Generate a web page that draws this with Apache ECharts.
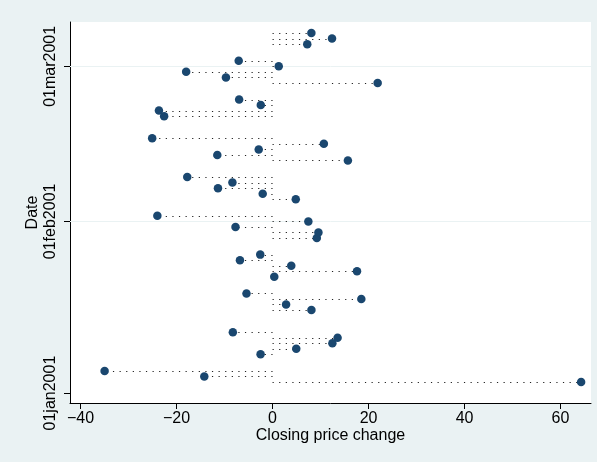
<!DOCTYPE html>
<html>
<head>
<meta charset="utf-8">
<script src="https://cdn.jsdelivr.net/npm/echarts@6/dist/echarts.min.js"></script>
<style>
html,body{margin:0;padding:0;background:#eaf2f3;}
#chart{width:597px;height:462px;}
</style>
</head>
<body>
<div id="chart"></div>
<script>
// Trading dates (2001) and closing price change
var dates = [
  '2001-01-03','2001-01-04','2001-01-05','2001-01-08','2001-01-09','2001-01-10','2001-01-11','2001-01-12',
  '2001-01-16','2001-01-17','2001-01-18','2001-01-19','2001-01-22','2001-01-23','2001-01-24','2001-01-25',
  '2001-01-26','2001-01-29','2001-01-30','2001-01-31','2001-02-01','2001-02-02','2001-02-05','2001-02-06',
  '2001-02-07','2001-02-08','2001-02-09','2001-02-12','2001-02-13','2001-02-14','2001-02-15','2001-02-16',
  '2001-02-20','2001-02-21','2001-02-22','2001-02-23','2001-02-26','2001-02-27','2001-02-28','2001-03-01',
  '2001-03-02','2001-03-05','2001-03-06','2001-03-07'
];
var changes = [
  64.29, -14.22, -34.99, -2.49, 4.94, 12.47, 13.55, -8.27,
  8.10, 2.82, 18.50, -5.43, 0.36, 17.60, 3.90, -6.79,
  -2.56, 9.22, 9.56, -7.72, 7.46, -24.00, 4.84, -2.05,
  -11.37, -8.36, -17.77, 15.70, -11.51, -2.88, 10.69, -25.08,
  -22.59, -23.67, -2.45, -6.96, 21.90, -9.71, -18.00, 1.29,
  -7.05, 7.23, 12.39, 8.09
];
var xTicks = [-40, -20, 0, 20, 40, 60];
var yTickDates = ['2001-01-01', '2001-02-01', '2001-03-01'];
var yTickLabels = ['01jan2001', '01feb2001', '01mar2001'];
var yGridDates = ['2001-02-01', '2001-03-01'];

var DAY = 86400000;
var origin = Date.UTC(2001, 0, 1);
function dayNum(s) {
  var p = s.split('-');
  return (Date.UTC(+p[0], +p[1] - 1, +p[2]) - origin) / DAY;
}
var points = dates.map(function (d, i) { return [changes[i], dayNum(d)]; });
var yTickVals = yTickDates.map(dayNum);
var labelMap = {};
yTickVals.forEach(function (v, i) { labelMap[v] = yTickLabels[i]; });

var FONT = 'Liberation Sans, Arial, Helvetica, sans-serif';
var chart = echarts.init(document.getElementById('chart'), null, {renderer: 'canvas'});
chart.setOption({
  animation: false,
  backgroundColor: '#eaf2f3',
  grid: {left: 70, right: 6, top: 22, bottom: 59, show: true, backgroundColor: '#ffffff', borderWidth: 0},
  xAxis: {
    type: 'value', min: -42.2, max: 66.35,
    name: 'Closing price change', nameLocation: 'middle', nameGap: 25, nameMoveOverlap: false,
    nameTextStyle: {fontFamily: FONT, fontSize: 16, color: '#000'},
    axisLine: {show: true, onZero: false, lineStyle: {color: '#000', width: 1}},
    axisTick: {show: true, length: 6, customValues: xTicks, lineStyle: {color: '#000'}},
    axisLabel: {customValues: xTicks, margin: 8, fontFamily: FONT, fontSize: 16, color: '#000',
      formatter: function (v) { return String(v).replace('-', '\u2212'); }},
    splitLine: {show: false}
  },
  yAxis: {
    type: 'value', min: -1.79, max: 67.0,
    name: 'Date', nameLocation: 'middle', nameGap: 29, nameRotate: 90, nameMoveOverlap: false,
    nameTextStyle: {fontFamily: FONT, fontSize: 16, color: '#000'},
    axisLine: {show: true, onZero: false, lineStyle: {color: '#000', width: 1}},
    axisTick: {show: true, length: 6, customValues: yTickVals, lineStyle: {color: '#000'}},
    axisLabel: {customValues: yTickVals, rotate: 90, margin: 11, fontFamily: FONT, fontSize: 16, color: '#000',
      formatter: function (v) { return labelMap[v] || ''; }},
    splitLine: {show: false}
  },
  series: [
    {
      type: 'custom', z: 2, silent: true,
      data: points,
      renderItem: function (params, api) {
        var d = api.value(1);
        var p0 = api.coord([0, d]);
        var p1 = api.coord([api.value(0), d]);
        var y = Math.round(p0[1]) + 0.5;
        return {
          type: 'line',
          shape: {x1: p0[0], y1: y, x2: p1[0], y2: y},
          style: {stroke: '#222', lineWidth: 1.2, lineDash: [1.2, 5.4], fill: null}
        };
      },
      markLine: {
        silent: true, z: 1, symbol: ['none', 'none'], label: {show: false},
        lineStyle: {color: '#eaf2f3', type: 'solid', width: 1},
        data: yGridDates.map(function (s) { return {yAxis: dayNum(s)}; })
      }
    },
    {
      type: 'scatter', z: 3, symbol: 'circle', symbolSize: 8.5,
      itemStyle: {color: '#1a476f', opacity: 1},
      data: points
    }
  ]
});
</script>
</body>
</html>
